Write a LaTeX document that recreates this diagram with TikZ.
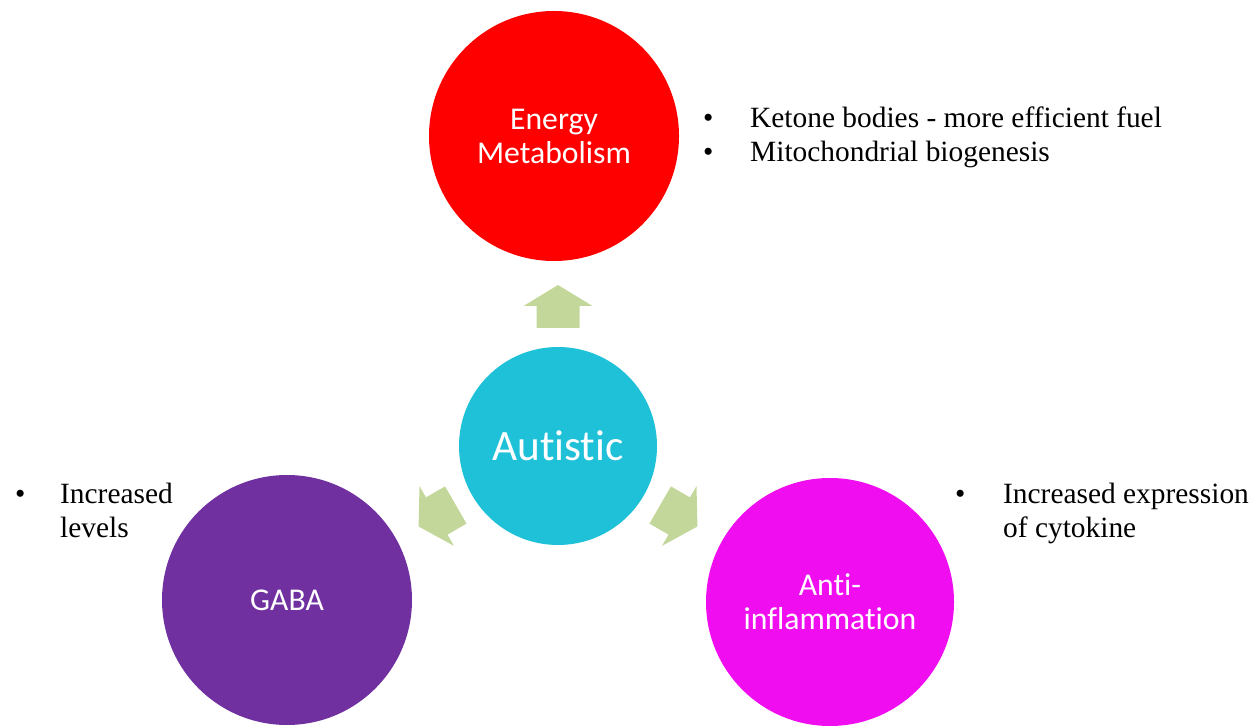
\documentclass[tikz,border=0pt]{standalone}
\usepackage{fontspec}
\setmainfont{Liberation Serif}
\newfontfamily\calib[Ligatures=NoCommon]{Carlito}
\definecolor{energyred}{HTML}{FF0000}
\definecolor{autcyan}{HTML}{1FC1D8}
\definecolor{gabapurple}{HTML}{7030A0}
\definecolor{inflmagenta}{HTML}{F00EF0}
\definecolor{arrowgreen}{HTML}{C4D79B}
\tikzset{
  bubble/.style={circle, inner sep=0pt, text=white, align=center,
    font=\calib\fontsize{31.7}{34}\selectfont},
  notes/.style={anchor=base west, inner sep=0pt,
    font=\fontsize{29.4}{34}\selectfont}
}
\begin{document}
\begin{tikzpicture}[x=1pt, y=1pt]
    \useasboundingbox (0,0) rectangle (1260,726);
    % circles
    \node[bubble, fill=energyred, minimum size=250] (energy) at (554,590) {Energy\\Metabolism};
    \node[bubble, fill=autcyan, minimum size=198, font=\calib\fontsize{43.3}{48}\selectfont] (autistic) at (558,280) {Autistic};
    \node[bubble, fill=gabapurple, minimum size=250] (gaba) at (287,126) {GABA};
    \node[bubble, fill=inflmagenta, minimum size=248] (anti) at (830,124) {Anti-\\inflammation};
    % block arrows out of the centre
    \foreach \ang in {90,210,330}
      \fill[arrowgreen, shift={(autistic.center)}, rotate=\ang]
        (118,-21.5) -- (140,-21.5) -- (140,-34.5) -- (161,0) -- (140,34.5) -- (140,21.5) -- (118,21.5) -- cycle;
    % bullet notes
    \node[notes] (energynotes) at (703,598) {\begin{tabular}[t]{@{}p{47pt}@{}l@{}}
      \textbullet & Ketone bodies - more efficient fuel\\
      \textbullet & Mitochondrial biogenesis
    \end{tabular}};
    \node[notes] (gabanotes) at (15,223) {\begin{tabular}[t]{@{}p{45pt}@{}l@{}}
      \textbullet & Increased\\
      & levels
    \end{tabular}};
    \node[notes] (antinotes) at (955,223) {\begin{tabular}[t]{@{}p{48pt}@{}l@{}}
      \textbullet & Increased expression\\
      & of cytokine
    \end{tabular}};
\end{tikzpicture}
\end{document}
